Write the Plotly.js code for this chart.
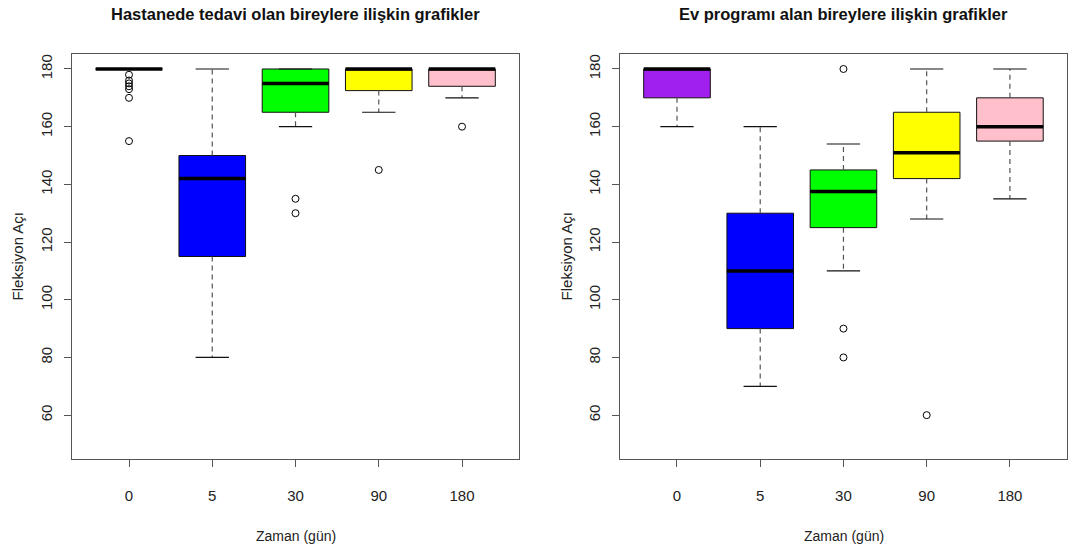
<!DOCTYPE html>
<html>
<head>
<meta charset="utf-8">
<script src="https://cdn.plot.ly/plotly-3.0.1.min.js"></script>
<style>html,body{margin:0;padding:0;background:#fff;}#chart{width:1068px;height:552px;}</style>
</head>
<body>
<div id="chart"></div>
<script>
// ---- data ----
const categories = ["0", "5", "30", "90", "180"];
const boxColors = ["#A020F0", "#0000FF", "#00FF00", "#FFFF00", "#FFC0CB"];
const yTicks = [60, 80, 100, 120, 140, 160, 180];

// Hastanede tedavi olan bireyler
const hospLower  = [180, 80, 160, 165, 170];
const hospQ1     = [180, 115, 165, 172.5, 174];
const hospMedian = [180, 142, 175, 180, 180];
const hospQ3     = [180, 150, 180, 180, 180];
const hospUpper  = [180, 180, 180, 180, 180];
const hospOutCat = ["0", "0", "0", "0", "0", "0", "0", "30", "30", "90", "180"];
const hospOutVal = [178, 176, 175, 174, 173, 170, 155, 135, 130, 145, 160];

// Ev programı alan bireyler
const homeLower  = [160, 70, 110, 128, 135];
const homeQ1     = [170, 90, 125, 142, 155];
const homeMedian = [180, 110, 137.5, 151, 160];
const homeQ3     = [180, 130, 145, 165, 170];
const homeUpper  = [180, 160, 154, 180, 180];
const homeOutCat = ["30", "30", "30", "90"];
const homeOutVal = [180, 90, 80, 60];

// ---- build ----
const FONT = "Liberation Sans, Arial, sans-serif";
const BOXW = 0.8, CAPW = 0.4;

function panel(xa, ya, lower, q1, med, q3, upper, outCat, outVal) {
  const boxes = [], lines = [];
  const wx = [], wy = [], cx = [], cy = [], mx = [], my = [];
  categories.forEach((c, i) => {
    const p = i + 1;
    boxes.push({
      type: "box", xaxis: xa, yaxis: ya, x: [p],
      q1: [q1[i]], median: [med[i]], q3: [q3[i]],
      lowerfence: [q1[i]], upperfence: [q3[i]],
      width: BOXW, whiskerwidth: 0, boxpoints: false,
      fillcolor: boxColors[i], line: {color: "#111", width: 1},
      showlegend: false, hoverinfo: "skip"
    });
    wx.push(p, p, null, p, p, null);
    wy.push(q3[i], upper[i], null, q1[i], lower[i], null);
    cx.push(p - CAPW / 2, p + CAPW / 2, null, p - CAPW / 2, p + CAPW / 2, null);
    cy.push(upper[i], upper[i], null, lower[i], lower[i], null);
    mx.push(p - BOXW / 2, p + BOXW / 2, null);
    my.push(med[i], med[i], null);
  });
  lines.push({type: "scatter", mode: "lines", xaxis: xa, yaxis: ya, x: wx, y: wy,
    line: {color: "#555", width: 1.2, dash: "5px,4px"}, showlegend: false, hoverinfo: "skip"});
  lines.push({type: "scatter", mode: "lines", xaxis: xa, yaxis: ya, x: cx, y: cy,
    line: {color: "#111", width: 1.2}, showlegend: false, hoverinfo: "skip"});
  lines.push({type: "scatter", mode: "lines", xaxis: xa, yaxis: ya, x: mx, y: my,
    line: {color: "#000", width: 3.5}, showlegend: false, hoverinfo: "skip"});
  lines.push({type: "scatter", mode: "markers", xaxis: xa, yaxis: ya,
    x: outCat.map(c => categories.indexOf(c) + 1), y: outVal,
    marker: {symbol: "circle-open", size: 7, color: "#000", line: {width: 1}},
    showlegend: false, hoverinfo: "skip"});
  return boxes.concat(lines);
}

const data = panel("x", "y", hospLower, hospQ1, hospMedian, hospQ3, hospUpper, hospOutCat, hospOutVal)
  .concat(panel("x2", "y2", homeLower, homeQ1, homeMedian, homeQ3, homeUpper, homeOutCat, homeOutVal));

function xAxis(dom, anchor) {
  return {domain: dom, anchor: anchor, range: [0.315, 5.685],
    tickmode: "array", tickvals: categories.map((c, i) => i + 1), ticktext: categories,
    ticks: "outside", ticklen: 7, tickcolor: "#555", tickwidth: 1,
    showline: true, mirror: true, linecolor: "#555", linewidth: 1.3,
    showgrid: false, zeroline: false, ticklabelstandoff: 16,
    tickfont: {family: FONT, size: 15, color: "#222"}, fixedrange: true};
}
function yAxis(anchor) {
  return {domain: [0.1685, 0.9022], anchor: anchor, range: [44.8, 185.2],
    tickmode: "array", tickvals: yTicks, tickangle: -90,
    ticks: "outside", ticklen: 7, tickcolor: "#555", tickwidth: 1,
    showline: true, mirror: true, linecolor: "#555", linewidth: 1.3,
    showgrid: false, zeroline: false, ticklabelstandoff: 6,
    tickfont: {family: FONT, size: 15, color: "#222"}, fixedrange: true};
}

const ann = (text, x, y, opts) => Object.assign({text: text, x: x, y: y, xref: "paper", yref: "paper",
  showarrow: false, xanchor: "center", yanchor: "middle",
  font: {family: FONT, size: 14, color: "#222"}}, opts || {});

const layout = {
  width: 1068, height: 552,
  margin: {l: 0, r: 0, t: 0, b: 0},
  paper_bgcolor: "#fff", plot_bgcolor: "#fff",
  showlegend: false,
  xaxis: xAxis([0.0674, 0.4860], "y"),
  yaxis: yAxis("x"),
  xaxis2: xAxis([0.5805, 0.9990], "y2"),
  yaxis2: yAxis("x2"),
  annotations: [
    ann("<b>Hastanede tedavi olan bireylere ilişkin grafikler</b>", 0.2767, 0.9746, {font: {family: FONT, size: 16.5, color: "#111"}}),
    ann("<b>Ev programı alan bireylere ilişkin grafikler</b>", 0.7898, 0.9746, {font: {family: FONT, size: 16.5, color: "#111"}}),
    ann("Zaman (gün)", 0.2767, 0.029),
    ann("Zaman (gün)", 0.7898, 0.029),
    ann("Fleksiyon Açı", 0.0159, 0.5355, {textangle: -90, font: {family: FONT, size: 15, color: "#222"}}),
    ann("Fleksiyon Açı", 0.530, 0.5355, {textangle: -90, font: {family: FONT, size: 15, color: "#222"}})
  ]
};

Plotly.newPlot("chart", data, layout, {displayModeBar: false, staticPlot: true});
</script>
</body>
</html>
